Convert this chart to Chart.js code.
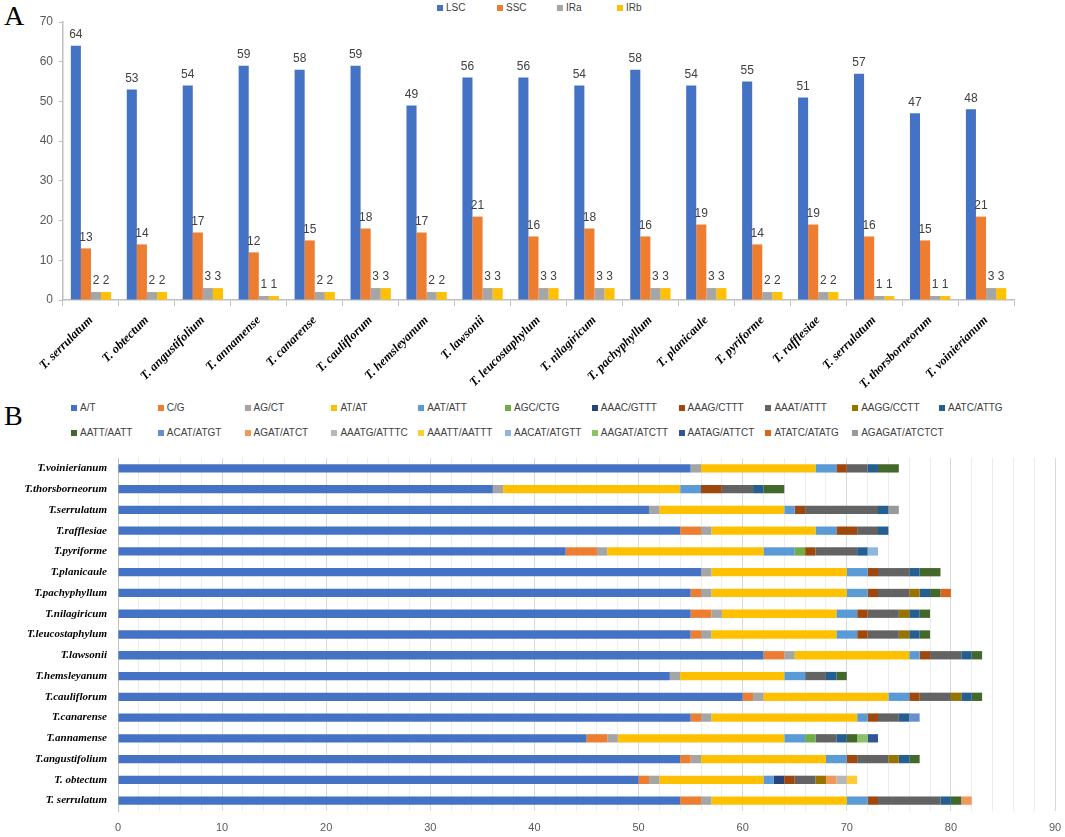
<!DOCTYPE html>
<html>
<head>
<meta charset="utf-8">
<script src="https://cdn.jsdelivr.net/npm/chart.js@4.4.1/dist/chart.umd.min.js"></script>
<style>
body { margin:0; background:#fff; }
#page { position:relative; width:1065px; height:837px; overflow:hidden; }
.panel { position:absolute; left:4px; font-family:'Liberation Serif', serif; font-size:28px; color:#000; }
.leg { position:absolute; font-family:'Liberation Sans Narrow','Liberation Sans',sans-serif; font-size:10px; color:#404040; }
.leg span.item { position:absolute; white-space:nowrap; line-height:12px; }
.leg i { display:inline-block; width:6px; height:6px; margin-right:3px; vertical-align:0px; }
canvas { position:absolute; left:0; }
</style>
</head>
<body>
<div id="page">
  <div class="panel" style="top:0px">A</div>
  <div class="panel" style="top:400px">B</div>
  <div class="leg" id="legA" style="top:2px;left:0"></div>
  <div class="leg" id="legB" style="top:402px;left:0"></div>
  <canvas id="chartA" width="1065" height="390" style="top:0"></canvas>
  <canvas id="chartB" width="1065" height="387" style="top:450px"></canvas>
</div>
<script>
// ---- panel A data ----
const speciesA = ['T. serrulatum', 'T. obtectum', 'T. angustifolium', 'T. annamense', 'T. canarense',
  'T. cauliflorum', 'T. hemsleyanum', 'T. lawsonii', 'T. leucostaphylum', 'T. nilagiricum',
  'T. pachyphyllum', 'T. planicaule', 'T. pyriforme', 'T. rafflesiae', 'T. serrulatum',
  'T. thorsborneorum', 'T. voinierianum'];
const lsc = [64, 53, 54, 59, 58, 59, 49, 56, 56, 54, 58, 54, 55, 51, 57, 47, 48];
const ssc = [13, 14, 17, 12, 15, 18, 17, 21, 16, 18, 16, 19, 14, 19, 16, 15, 21];
const ira = [2, 2, 3, 1, 2, 3, 2, 3, 3, 3, 3, 3, 2, 2, 1, 1, 3];
const irb = [2, 2, 3, 1, 2, 3, 2, 3, 3, 3, 3, 3, 2, 2, 1, 1, 3];
const yTicksA = [0, 10, 20, 30, 40, 50, 60, 70];

// ---- panel B data (bottom row first, like the original sheet) ----
const speciesB = ['T. serrulatum', 'T. obtectum', 'T.angustifolium', 'T.annamense', 'T.canarense',
  'T.cauliflorum', 'T.hemsleyanum', 'T.lawsonii', 'T.leucostaphylum', 'T.nilagiricum',
  'T.pachyphyllum', 'T.planicaule', 'T.pyriforme', 'T.rafflesiae', 'T.serrulatum',
  'T.thorsborneorum', 'T.voinierianum'];
const repeatTypes = ['A/T', 'C/G', 'AG/CT', 'AT/AT', 'AAT/ATT', 'AGC/CTG', 'AAAC/GTTT', 'AAAG/CTTT',
  'AAAT/ATTT', 'AAGG/CCTT', 'AATC/ATTG', 'AATT/AATT', 'ACAT/ATGT', 'AGAT/ATCT', 'AAATG/ATTTC',
  'AAATT/AATTT', 'AACAT/ATGTT', 'AAGAT/ATCTT', 'AATAG/ATTCT', 'ATATC/ATATG', 'AGAGAT/ATCTCT'];
const aT    = [54, 50, 54, 45, 55, 60, 53, 62, 55, 55, 55, 56, 43, 54, 51, 36, 55];
const cG    = [2, 1, 1, 2, 1, 1, 0, 2, 1, 2, 1, 0, 3, 2, 0, 0, 0];
const agCt  = [1, 1, 1, 1, 1, 1, 1, 1, 1, 1, 1, 1, 1, 1, 1, 1, 1];
const atAt  = [13, 10, 12, 16, 14, 12, 10, 11, 12, 11, 13, 13, 15, 10, 12, 17, 11];
const aatAtt = [2, 1, 2, 2, 1, 2, 2, 1, 2, 2, 2, 2, 3, 2, 1, 2, 2];
const agcCtg = [0, 0, 0, 1, 0, 0, 0, 0, 0, 0, 0, 0, 1, 0, 0, 0, 0];
const aaac  = [0, 1, 0, 0, 0, 0, 0, 0, 0, 0, 0, 0, 0, 0, 0, 0, 0];
const aaag  = [1, 1, 1, 0, 1, 1, 0, 1, 1, 1, 1, 1, 1, 2, 1, 2, 1];
const aaat  = [6, 2, 3, 2, 2, 3, 2, 3, 3, 3, 3, 3, 4, 2, 7, 3, 2];
const aagg  = [0, 1, 1, 0, 0, 1, 0, 0, 1, 1, 1, 0, 0, 0, 0, 0, 0];
const aatc  = [1, 0, 1, 1, 1, 1, 1, 1, 1, 1, 1, 1, 1, 1, 1, 1, 1];
const aatt  = [1, 0, 1, 1, 0, 1, 1, 1, 1, 1, 1, 2, 0, 0, 0, 2, 2];
const acat  = [0, 0, 0, 0, 1, 0, 0, 0, 0, 0, 0, 0, 0, 0, 0, 0, 0];
const agat  = [1, 1, 0, 0, 0, 0, 0, 0, 0, 0, 0, 0, 0, 0, 0, 0, 0];
const aaatg = [0, 1, 0, 0, 0, 0, 0, 0, 0, 0, 0, 0, 0, 0, 0, 0, 0];
const aaatt = [0, 1, 0, 0, 0, 0, 0, 0, 0, 0, 0, 0, 0, 0, 0, 0, 0];
const aacat = [0, 0, 0, 0, 0, 0, 0, 0, 0, 0, 0, 0, 1, 0, 0, 0, 0];
const aagat = [0, 0, 0, 1, 0, 0, 0, 0, 0, 0, 0, 0, 0, 0, 0, 0, 0];
const aatag = [0, 0, 0, 1, 0, 0, 0, 0, 0, 0, 0, 0, 0, 0, 0, 0, 0];
const atatc = [0, 0, 0, 0, 0, 0, 0, 0, 0, 0, 1, 0, 0, 0, 0, 0, 0];
const agagat = [0, 0, 0, 0, 0, 0, 0, 0, 0, 0, 0, 0, 0, 0, 1, 0, 0];
const repeatValues = [aT, cG, agCt, atAt, aatAtt, agcCtg, aaac, aaag, aaat, aagg, aatc, aatt,
  acat, agat, aaatg, aaatt, aacat, aagat, aatag, atatc, agagat];

const colorsA = ['#4472C4', '#ED7D31', '#A5A5A5', '#FFC000'];
const colorsB = ['#4472C4', '#ED7D31', '#A5A5A5', '#FFC000', '#5B9BD5', '#70AD47', '#264478', '#9E480E',
  '#636363', '#997300', '#255E91', '#43682B', '#698ED0', '#F1975A', '#B7B7B7', '#FFCD33', '#8DB6E0',
  '#8CC168', '#2F5597', '#D9661F', '#999999'];

const tickFont = { family: "'Liberation Sans', sans-serif", size: 12 };
const nameFontA = { family: "'Liberation Serif', serif", size: 12.5, style: 'italic', weight: 'bold' };
const nameFontB = { family: "'Liberation Serif', serif", size: 11, style: 'italic', weight: 'bold' };

// html legends, laid out like the excel ones
function makeLegend(el, names, colors, positions) {
  names.forEach((n, i) => {
    const s = document.createElement('span');
    s.className = 'item';
    s.style.left = positions[i][0] + 'px';
    s.style.top = positions[i][1] + 'px';
    s.innerHTML = '<i style="background:' + colors[i] + '"></i>' + n;
    el.appendChild(s);
  });
}
makeLegend(document.getElementById('legA'), ['LSC', 'SSC', 'IRa', 'IRb'], colorsA,
  [[437, 0], [497, 0], [557, 0], [617, 0]]);
makeLegend(document.getElementById('legB'), repeatTypes, colorsB,
  repeatTypes.map((n, i) => [71 + (i % 11) * 86.8, i < 11 ? 0 : 25]));

// value labels above each bar of panel A
const barValueLabels = {
  id: 'barValueLabels',
  afterDatasetsDraw(chart) {
    const ctx = chart.ctx;
    ctx.save();
    ctx.font = "12px 'Liberation Sans', sans-serif";
    ctx.fillStyle = '#404040';
    ctx.textAlign = 'center';
    ctx.textBaseline = 'bottom';
    chart.data.datasets.forEach((ds, i) => {
      chart.getDatasetMeta(i).data.forEach((bar, j) => {
        ctx.fillText(ds.data[j], bar.x, bar.y - 5);
      });
    });
    ctx.restore();
  }
};

function noPad(scale) {
  scale.paddingLeft = 0; scale.paddingRight = 0; scale.paddingTop = 0; scale.paddingBottom = 0;
}

new Chart(document.getElementById('chartA'), {
  type: 'bar',
  data: {
    labels: speciesA,
    datasets: [
      { label: 'LSC', data: lsc, backgroundColor: colorsA[0] },
      { label: 'SSC', data: ssc, backgroundColor: colorsA[1] },
      { label: 'IRa', data: ira, backgroundColor: colorsA[2] },
      { label: 'IRb', data: irb, backgroundColor: colorsA[3] }
    ]
  },
  options: {
    responsive: false,
    animation: false,
    layout: { padding: { top: 22, right: 51, left: 0, bottom: 0 } },
    datasets: { bar: { categoryPercentage: 0.72, barPercentage: 1.0 } },
    plugins: { legend: { display: false }, tooltip: { enabled: false } },
    scales: {
      x: {
        grid: { display: true, drawOnChartArea: false, drawTicks: true, tickLength: 6, color: '#bfbfbf', offset: true },
        border: { color: '#bfbfbf', width: 1.5 },
        ticks: { font: nameFontA, color: '#000', minRotation: 45, maxRotation: 45, autoSkip: false, padding: 7 },
        afterFit(scale) { scale.height = 90; noPad(scale); }
      },
      y: {
        min: 0,
        max: 70,
        afterBuildTicks(scale) { scale.ticks = yTicksA.map(v => ({ value: v })); },
        grid: { display: true, drawOnChartArea: false, drawTicks: true, tickLength: 4, color: '#bfbfbf' },
        border: { color: '#bfbfbf', width: 1.5 },
        ticks: { font: tickFont, color: '#595959', padding: 6 },
        afterFit(scale) { scale.width = 63; noPad(scale); }
      }
    }
  },
  plugins: [barValueLabels]
});

new Chart(document.getElementById('chartB'), {
  type: 'bar',
  data: {
    labels: speciesB,
    datasets: repeatTypes.map((n, i) => ({
      label: n,
      data: repeatValues[i],
      backgroundColor: colorsB[i]
    }))
  },
  options: {
    indexAxis: 'y',
    responsive: false,
    animation: false,
    layout: { padding: { top: 8, right: 10, left: 0, bottom: 0 } },
    datasets: { bar: { categoryPercentage: 1.0, barPercentage: 0.4 } },
    plugins: { legend: { display: false }, tooltip: { enabled: false } },
    scales: {
      x: {
        stacked: true,
        min: 0,
        max: 90,
        ticks: {
          stepSize: 2,
          autoSkip: false,
          maxRotation: 0,
          font: { family: "'Liberation Sans', sans-serif", size: 11 },
          color: '#595959',
          padding: 10,
          callback: v => (v % 10 === 0 ? v : '')
        },
        grid: {
          color: ctx => (ctx.tick && ctx.tick.value % 10 === 0 ? '#d9d9d9' : '#ededed'),
          drawTicks: false
        },
        border: { display: false },
        afterFit(scale) { scale.height = 26; noPad(scale); }
      },
      y: {
        stacked: true,
        reverse: true,
        grid: { display: false, drawTicks: false },
        border: { color: '#bfbfbf', width: 1 },
        ticks: { font: nameFontB, color: '#000', padding: 11, autoSkip: false },
        afterFit(scale) { scale.width = 118; noPad(scale); }
      }
    }
  }
});
</script>
</body>
</html>
